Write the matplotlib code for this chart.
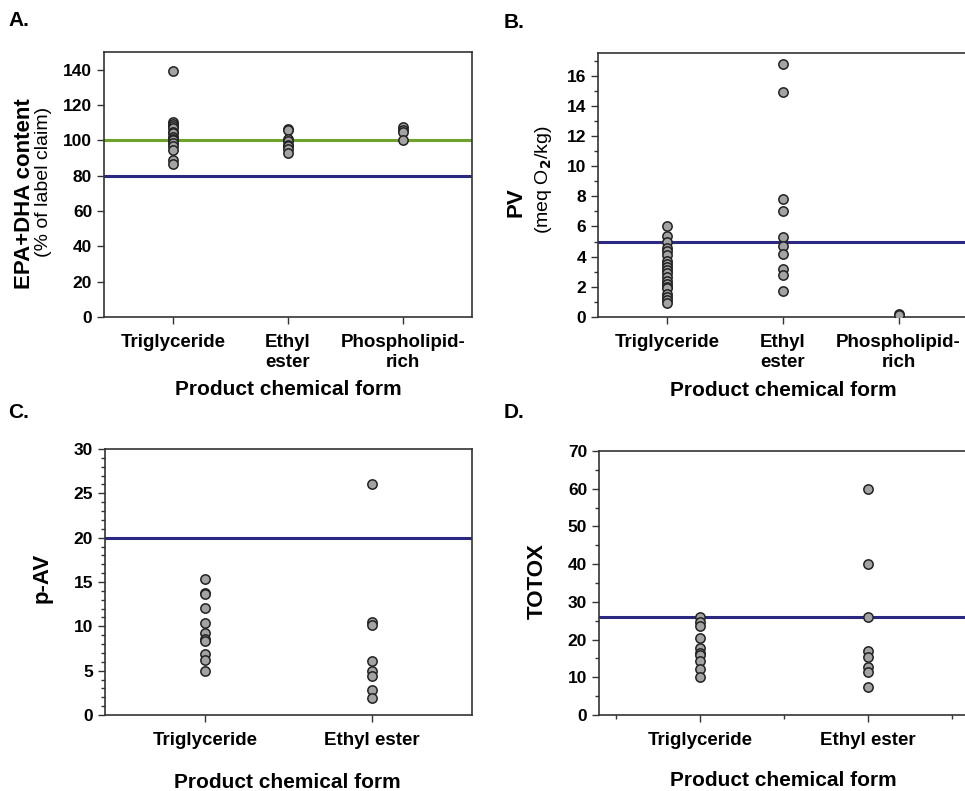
import matplotlib
matplotlib.use('Agg')
import matplotlib.pyplot as plt
import numpy as np
from matplotlib.ticker import MultipleLocator

plt.rcParams['font.family'] = ['Liberation Sans', 'DejaVu Sans']
plt.rcParams['font.weight'] = 'bold'

# ---- data ----
forms_3 = ['Triglyceride', 'Ethyl\nester', 'Phospholipid-\nrich']
forms_2 = ['Triglyceride', 'Ethyl ester']

# A. EPA+DHA content (% of label claim)
epa_tg = [139, 110.5, 109.5, 108, 107, 105, 104, 102, 101, 100, 98.5, 97, 94.7, 89, 86.6]
epa_ee = [106.6, 106, 101, 99.4, 97.5, 96.6, 95, 92.8]
epa_pl = [107.6, 106, 104.5, 100.4]
epa_limits = [100, 80]          # green, blue

# B. PV (meq O2/kg)
pv_tg = [6.0, 5.4, 5.0, 4.6, 4.4, 4.1, 3.7, 3.5, 3.3, 3.1, 2.9, 2.65, 2.4, 2.2,
         2.0, 1.9, 1.5, 1.3, 1.1, 0.9]
pv_ee = [16.8, 14.9, 7.8, 7.0, 5.3, 4.7, 4.2, 3.2, 2.76, 1.7]
pv_pl = [0.2, 0.1]
pv_limit = 5

# C. p-AV
pav_tg = [15.3, 13.8, 13.7, 12.1, 10.4, 9.3, 8.6, 8.3, 6.9, 6.2, 5.0]
pav_ee = [26.1, 10.5, 10.1, 6.1, 5.0, 4.4, 2.8, 1.9]
pav_limit = 20

# D. TOTOX
totox_tg = [26.1, 24.6, 23.5, 20.5, 17.8, 16.4, 16.0, 14.2, 12.3, 10.0]
totox_ee = [59.8, 40.0, 26.1, 17.0, 15.5, 12.7, 11.4, 7.4]
totox_limit = 26

GREEN = '#6fa22a'
NAVY = '#2b2882'
DOT = '#a3a3a3'
W, H = 965, 791

fig = plt.figure(figsize=(W / 100, H / 100), dpi=100)

def box(l, t, r, b):
    return [l / W, 1 - b / H, (r - l) / W, (b - t) / H]

def style(ax):
    for s in ax.spines.values():
        s.set_color('#333333')
        s.set_linewidth(1.2)
    ax.tick_params(axis='both', which='major', direction='out', length=5,
                   width=1, labelsize=12.5, color='#333333')
    ax.tick_params(axis='both', which='minor', direction='out', length=3,
                   width=1, color='#333333')
    ax.tick_params(axis='x', labelsize=13.5, pad=7)

def dots(ax, groups):
    for i, vals in enumerate(groups):
        ax.scatter(np.full(len(vals), i + 1), vals, s=45, c=DOT,
                   edgecolors='#222222', linewidths=1.1, zorder=3)

# ---- A ----
axA = fig.add_axes(box(104, 52, 472, 317))
dots(axA, [epa_tg, epa_ee, epa_pl])
axA.axhline(epa_limits[0], color=GREEN, lw=2.2, zorder=2)
axA.axhline(epa_limits[1], color=NAVY, lw=2.2, zorder=2)
axA.set_xlim(0.4, 3.6)
axA.set_ylim(0, 150)
axA.set_yticks(np.arange(0, 141, 20))
axA.set_xticks([1, 2, 3])
axA.set_xticklabels(forms_3, linespacing=1.25, va='top')
style(axA)

# ---- B ----
axB = fig.add_axes(box(598, 53, 968, 317))
dots(axB, [pv_tg, pv_ee, pv_pl])
axB.axhline(pv_limit, color=NAVY, lw=2.2, zorder=2)
axB.set_xlim(0.4, 3.6)
axB.set_ylim(0, 17.5)
axB.set_yticks(np.arange(0, 17, 2))
axB.yaxis.set_minor_locator(MultipleLocator(1))
axB.set_xticks([1, 2, 3])
axB.set_xticklabels(forms_3, linespacing=1.25, va='top')
style(axB)

# ---- C ----
axC = fig.add_axes(box(105, 449, 472, 715))
dots(axC, [pav_tg, pav_ee])
axC.axhline(pav_limit, color=NAVY, lw=2.2, zorder=2)
axC.set_xlim(0.4, 2.6)
axC.set_ylim(0, 30)
axC.set_yticks(np.arange(0, 31, 5))
axC.yaxis.set_minor_locator(MultipleLocator(1))
axC.set_xticks([1, 2])
axC.set_xticklabels(forms_2)
style(axC)

# ---- D ----
axD = fig.add_axes(box(599, 451, 969, 715))
dots(axD, [totox_tg, totox_ee])
axD.axhline(totox_limit, color=NAVY, lw=2.2, zorder=2)
axD.set_xlim(0.4, 2.6)
axD.set_ylim(0, 70)
axD.set_yticks(np.arange(0, 71, 10))
axD.yaxis.set_minor_locator(MultipleLocator(5))
axD.set_xticks([1, 2])
axD.set_xticks([0.5, 1.5, 2.5], minor=True)
axD.set_xticklabels(forms_2)
style(axD)

# ---- labels ----
def ftext(x, y, s, **kw):
    fig.text(x / W, 1 - y / H, s, **kw)

ftext(8, 20, 'A.', fontsize=15, fontweight='bold', va='center')
ftext(504, 22, 'B.', fontsize=15, fontweight='bold', va='center')
ftext(8, 412, 'C.', fontsize=15, fontweight='bold', va='center')
ftext(504, 413, 'D.', fontsize=15, fontweight='bold', va='center')

ftext(25, 194, 'EPA+DHA content', fontsize=16, fontweight='bold',
      rotation=90, ha='center', va='center')
ftext(44, 182, '(% of label claim)', fontsize=14, fontweight='normal',
      rotation=90, ha='center', va='center')
ftext(516, 202, 'PV', fontsize=16, fontweight='bold',
      rotation=90, ha='center', va='center')
ftext(544, 180, '(meq O$_2$/kg)', fontsize=14, fontweight='normal',
      rotation=90, ha='center', va='center')
ftext(42, 578, 'p-AV', fontsize=16, fontweight='bold',
      rotation=90, ha='center', va='center')
ftext(537, 581, 'TOTOX', fontsize=16, fontweight='bold',
      rotation=90, ha='center', va='center')

for x, y in [(288, 389), (783, 391), (287, 783), (783, 781)]:
    ftext(x, y, 'Product chemical form', fontsize=15, fontweight='bold',
          ha='center', va='center')

fig.savefig('out.png', dpi=100)
